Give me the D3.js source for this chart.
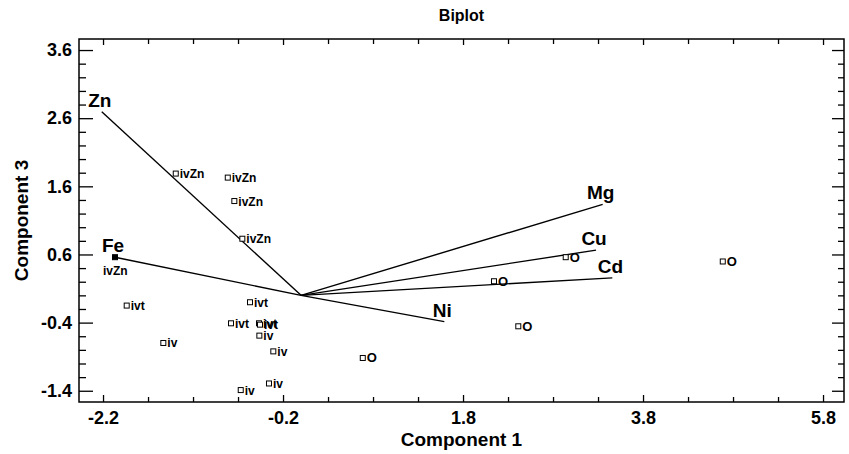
<!DOCTYPE html>
<html>
<head>
<meta charset="utf-8">
<script src="https://cdn.jsdelivr.net/npm/d3@7"></script>
<style>
  body { margin: 0; background: #fff; }
  svg { display: block; font-family: "Liberation Sans", Arial, sans-serif; }
  .axis path { display: none; }
  .axis line { stroke: #000; stroke-width: 1.3; }
  .axis text { font-size: 18px; font-weight: bold; fill: #000; }
</style>
</head>
<body>
<svg class="chart"></svg>
<script>
// variable vectors (loadings)
let varNames = ['Zn', 'Fe', 'Mg', 'Cu', 'Cd', 'Ni'];
let varX = [-2.214, -2.067, 3.352, 3.278, 3.459, 1.592];
let varY = [2.695, 0.560, 1.335, 0.663, 0.257, -0.385];

// observations (scores)
let obsLabels = ['ivZn', 'ivZn', 'ivZn', 'ivZn', 'ivZn',
                 'ivt', 'ivt', 'ivt', 'ivt', 'ivt',
                 'iv', 'iv', 'iv', 'iv', 'iv',
                 'O', 'O', 'O', 'O', 'O'];
let obsX = [-1.392, -0.814, -0.741, -0.652, -2.067,
            -1.937, -0.567, -0.778, -0.467, -0.456,
            -0.463, -1.530, -0.308, -0.356, -0.670,
            2.941, 2.144, 2.414, 0.686, 4.686];
let obsY = [1.787, 1.728, 1.384, 0.831, 0.560,
            -0.150, -0.101, -0.410, -0.410, -0.430,
            -0.591, -0.699, -0.822, -1.293, -1.390,
            0.560, 0.207, -0.454, -0.919, 0.497];

let xMajor = [-2.2, -0.2, 1.8, 3.8, 5.8];
let yMajor = [-1.4, -0.4, 0.6, 1.6, 2.6, 3.6];

let outerW = 849, outerH = 454;
let margin = { top: 39, right: 5, bottom: 52, left: 79 };
let width = outerW - margin.left - margin.right;
let height = outerH - margin.top - margin.bottom;

let x = d3.scaleLinear().domain([-2.467, 6.033]).range([0, width]);
let y = d3.scaleLinear().domain([-1.565, 3.762]).range([height, 0]);

// plain hyphen for negatives, like the original
let fmt = (d) => d.toFixed(1);

let xMinor = d3.range(-2.2, 5.81, 0.5).filter(v => !xMajor.some(m => Math.abs(m - v) < 1e-6));
let yMinor = d3.range(-1.4, 3.61, 0.2).filter(v => !yMajor.some(m => Math.abs(m - v) < 1e-6));

let svg = d3.select('.chart')
    .attr('width', outerW)
    .attr('height', outerH);

let chart = svg.append('g')
    .attr('transform', `translate(${margin.left},${margin.top})`);

// ticks, all pointing inward
chart.append('g').attr('class', 'axis')
    .attr('transform', `translate(0,${height})`)
    .call(d3.axisBottom(x).tickValues(xMajor).tickSize(-7).tickPadding(9).tickFormat(fmt));
chart.append('g').attr('class', 'axis')
    .attr('transform', `translate(0,${height})`)
    .call(d3.axisBottom(x).tickValues(xMinor).tickSize(-5).tickFormat(''));
chart.append('g').attr('class', 'axis')
    .call(d3.axisTop(x).tickValues(xMajor).tickSize(-6).tickFormat(''));
chart.append('g').attr('class', 'axis')
    .call(d3.axisTop(x).tickValues(xMinor).tickSize(-5).tickFormat(''));

chart.append('g').attr('class', 'axis')
    .call(d3.axisLeft(y).tickValues(yMajor).tickSize(-14).tickPadding(7).tickFormat(fmt));
chart.append('g').attr('class', 'axis')
    .call(d3.axisLeft(y).tickValues(yMinor).tickSize(-7).tickFormat(''));
chart.append('g').attr('class', 'axis')
    .attr('transform', `translate(${width},0)`)
    .call(d3.axisRight(y).tickValues(yMajor).tickSize(-12).tickFormat(''));
chart.append('g').attr('class', 'axis')
    .attr('transform', `translate(${width},0)`)
    .call(d3.axisRight(y).tickValues(yMinor).tickSize(-6).tickFormat(''));

// frame
chart.append('rect')
    .attr('width', width)
    .attr('height', height)
    .attr('fill', 'none')
    .attr('stroke', '#000')
    .attr('stroke-width', 1.5);

// vectors
let vecs = varNames.map((n, i) => ({ name: n, x: varX[i], y: varY[i] }));

chart.selectAll('.vec')
    .data(vecs)
  .enter().append('line')
    .attr('class', 'vec')
    .attr('x1', x(0))
    .attr('y1', y(0))
    .attr('x2', d => x(d.x))
    .attr('y2', d => y(d.y))
    .attr('stroke', '#000')
    .attr('stroke-width', 1.4);

chart.selectAll('.vlab')
    .data(vecs)
  .enter().append('text')
    .attr('class', 'vlab')
    .attr('x', d => x(d.x) - 2)
    .attr('y', d => y(d.y) - 5)
    .attr('text-anchor', 'middle')
    .style('font-size', '19px')
    .style('font-weight', 'bold')
    .text(d => d.name);

// observations
let obs = obsLabels.map((l, i) => ({ label: l, x: obsX[i], y: obsY[i], i: i }));

chart.selectAll('.pt')
    .data(obs)
  .enter().append('rect')
    .attr('class', 'pt')
    .attr('x', d => x(d.x) - 2.5)
    .attr('y', d => y(d.y) - 2.5)
    .attr('width', 5)
    .attr('height', 5)
    .attr('fill', d => d.i === 4 ? '#000' : '#fff')
    .attr('stroke', '#000')
    .attr('stroke-width', 1);

chart.selectAll('.plab')
    .data(obs)
  .enter().append('text')
    .attr('class', 'plab')
    // the point sitting on the Fe arrow has its label pushed below
    .attr('x', d => d.i === 4 ? x(d.x) - 12 : x(d.x) + 4)
    .attr('y', d => d.i === 4 ? y(d.y) + 18 : y(d.y) + 4.5)
    .style('font-size', d => d.label === 'O' ? '13px' : '12px')
    .style('font-weight', 'bold')
    .text(d => d.label);

// titles
svg.append('text')
    .attr('x', margin.left + width / 2)
    .attr('y', 21)
    .attr('text-anchor', 'middle')
    .style('font-size', '16px')
    .style('font-weight', 'bold')
    .text('Biplot');

svg.append('text')
    .attr('x', margin.left + width / 2)
    .attr('y', 446)
    .attr('text-anchor', 'middle')
    .style('font-size', '19px')
    .style('font-weight', 'bold')
    .text('Component 1');

svg.append('text')
    .attr('transform', `translate(28,${margin.top + height / 2}) rotate(-90)`)
    .attr('text-anchor', 'middle')
    .style('font-size', '19px')
    .style('font-weight', 'bold')
    .text('Component 3');
</script>
</body>
</html>
